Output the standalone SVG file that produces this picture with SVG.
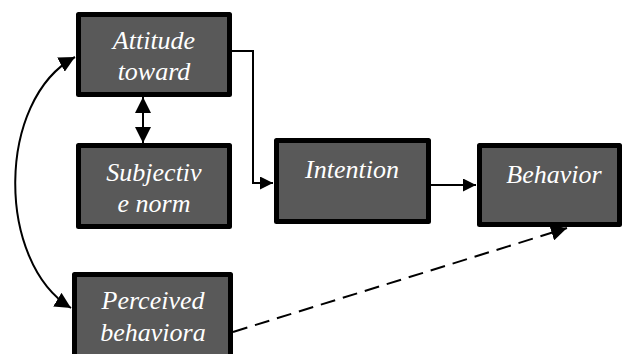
<svg xmlns="http://www.w3.org/2000/svg" width="622" height="354" viewBox="0 0 622 354">
<style>
.box{fill:#595959;stroke:#000;stroke-width:5;stroke-linejoin:round}
.lbl{font-family:'Liberation Serif','Times New Roman',serif;font-style:italic;font-size:26px;fill:#fff;text-anchor:middle}
.ln{fill:none;stroke:#000;stroke-width:2}
</style>
<defs>
<marker id="ah" viewBox="0 0 13 13" refX="13" refY="6.5" markerWidth="13" markerHeight="13" markerUnits="userSpaceOnUse" orient="auto-start-reverse">
<path d="M0,0 L13,6.5 L0,13 Z" fill="#000"/>
</marker>
<marker id="ah2" viewBox="0 0 16 16" refX="16" refY="8" markerWidth="16" markerHeight="16" markerUnits="userSpaceOnUse" orient="auto-start-reverse">
<path d="M0,0 L16,8 L0,16 Z" fill="#000"/>
</marker>
</defs>
<rect width="622" height="354" fill="#fff"/>
<g id="connectors">
<path class="ln" d="M232,51 H253 V183 H273" marker-end="url(#ah)"/>
<path class="ln" d="M431,185 H476" marker-end="url(#ah)"/>
<path class="ln" stroke-width="3" d="M143,97 V143" marker-start="url(#ah2)" marker-end="url(#ah2)"/>
<path class="ln" stroke-width="2.5" d="M75,57 C-4,100 -4,262 71,308" marker-start="url(#ah2)" marker-end="url(#ah2)"/>
<path class="ln" stroke-width="3" stroke-dasharray="15,8" d="M233,332 L567,228" marker-end="url(#ah2)"/>
</g>
<g id="attitude">
<rect class="box" x="78.5" y="14.5" width="151" height="80"/>
<text class="lbl" x="154" y="49">Attitude</text>
<text class="lbl" x="154" y="80">toward</text>
</g>
<g id="subjective">
<rect class="box" x="78.5" y="145.5" width="151" height="81"/>
<text class="lbl" x="154" y="181">Subjectiv</text>
<text class="lbl" x="154" y="212">e norm</text>
</g>
<g id="perceived">
<rect class="box" x="74.5" y="274.5" width="156" height="90"/>
<text class="lbl" x="153" y="309">Perceived</text>
<text class="lbl" x="153" y="341">behaviora</text>
</g>
<g id="intention">
<rect class="box" x="276.5" y="140.5" width="152" height="81"/>
<text class="lbl" x="352" y="178">Intention</text>
</g>
<g id="behavior">
<rect class="box" x="479.5" y="145.5" width="140" height="79"/>
<text class="lbl" x="554" y="183">Behavior</text>
</g>
</svg>
